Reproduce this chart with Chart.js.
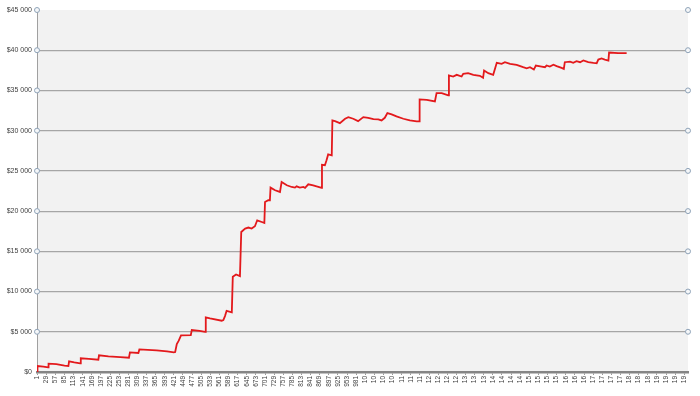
<!DOCTYPE html>
<html>
<head>
<meta charset="utf-8">
<script src="https://cdn.jsdelivr.net/npm/chart.js@4.4.1/dist/chart.umd.min.js"></script>
<style>
  html, body { margin: 0; padding: 0; background: #fff; }
  #wrap { width: 700px; height: 396px; }
</style>
</head>
<body>
<div id="wrap"><canvas id="equity"></canvas></div>
<script>
const tradeNo = [1, 2, 20, 35, 36, 60, 85, 97, 99, 115, 133, 135, 160, 189, 191, 220, 256, 283, 286, 312,
  315, 368, 400, 421, 425, 430, 436, 443, 473, 476, 500, 517, 519, 532, 568, 573, 578, 583, 599, 602,
  612, 624, 628, 640, 650, 660, 670, 677, 691, 699, 701, 711, 716, 718, 732, 747, 752, 768, 783, 793,
  798, 808, 819, 824, 834, 849, 875, 876, 885, 890, 895, 906, 908, 916, 931, 947, 957, 972, 987, 1003,
  1018, 1034, 1049, 1059, 1069, 1077, 1090, 1105, 1126, 1146, 1167, 1175, 1176, 1198, 1223, 1228, 1244, 1264, 1266, 1279,
  1290, 1305, 1310, 1325, 1341, 1361, 1371, 1374, 1387, 1402, 1413, 1428, 1438, 1454, 1474, 1494, 1505, 1515, 1527, 1533,
  1551, 1561, 1566, 1576, 1587, 1597, 1612, 1619, 1622, 1638, 1648, 1658, 1669, 1679, 1694, 1710, 1720, 1725, 1735, 1745,
  1756, 1758, 1786, 1812];

// account balance in dollars
const balance = [0, 745, 660, 580, 1030, 980, 800, 745, 1330, 1200, 1080, 1700, 1620, 1530, 2070, 1950, 1860, 1780, 2440, 2360,
  2810, 2690, 2560, 2440, 2480, 3475, 3900, 4550, 4590, 5210, 5100, 5000, 6790, 6660, 6370, 6450, 6950, 7610, 7410, 11830,
  12120, 11910, 17410, 17830, 17960, 17830, 18120, 18860, 18650, 18530, 21130, 21350, 21350, 22920, 22590, 22380, 23620, 23210, 23000, 22920,
  23080, 22920, 23000, 22880, 23330, 23210, 22880, 25750, 25700, 26310, 27050, 26930, 31270, 31190, 30940, 31480, 31680, 31480, 31190, 31680,
  31600, 31430, 31400, 31270, 31600, 32180, 32020, 31770, 31480, 31270, 31150, 31150, 33880, 33840, 33630, 34660, 34660, 34380, 36860, 36730,
  36940, 36730, 37070, 37140, 36940, 36820, 36570, 37480, 37140, 36940, 38430, 38310, 38510, 38310, 38190, 37890, 37760, 37890, 37600, 38100,
  37970, 37890, 38100, 37970, 38190, 38020, 37800, 37680, 38510, 38590, 38430, 38630, 38510, 38720, 38510, 38430, 38390, 38840, 38970, 38840,
  38720, 39710, 39630, 39630];

const xTickValues = [1, 29, 57, 85, 113, 141, 169, 197, 225, 253, 281, 309, 337, 365, 393, 421, 449, 477, 505, 533,
  561, 589, 617, 645, 673, 701, 729, 757, 785, 813, 841, 869, 897, 925, 953, 981, 1009, 1037, 1065, 1093,
  1121, 1149, 1177, 1205, 1233, 1261, 1289, 1317, 1345, 1373, 1401, 1429, 1457, 1485, 1513, 1541, 1569, 1597, 1625, 1653,
  1681, 1709, 1737, 1765, 1793, 1821, 1849, 1877, 1905, 1933, 1961, 1989];
// long labels get cut off in the original, only two chars show
const xTickLabels = ['1', '29', '57', '85', '113', '141', '169', '197', '225', '253', '281', '309', '337', '365', '393', '421', '449', '477', '505', '533',
  '561', '589', '617', '645', '673', '701', '729', '757', '785', '813', '841', '869', '897', '925', '953', '981', '10', '10', '10', '10',
  '11', '11', '11', '12', '12', '12', '12', '13', '13', '13', '14', '14', '14', '14', '15', '15', '15', '15', '16', '16',
  '16', '17', '17', '17', '17', '18', '18', '18', '19', '19', '19', '19'];

const yTicks = [0, 5000, 10000, 15000, 20000, 25000, 30000, 35000, 40000, 45000];

const points = tradeNo.map((t, i) => ({ x: t, y: balance[i] }));

function dollars(v) {
  return '$' + String(v).replace(/\B(?=(\d{3})+(?!\d))/g, ' ');
}

// grey plot area + little round handles at both ends of each gridline
const plotDecor = {
  id: 'plotDecor',
  beforeDraw(chart) {
    const { ctx, chartArea: a } = chart;
    ctx.save();
    ctx.fillStyle = '#f2f2f2';
    ctx.fillRect(a.left, a.top, a.right - a.left, a.bottom - a.top);
    ctx.restore();
  },
  afterDraw(chart) {
    const { ctx, chartArea: a, scales } = chart;
    ctx.save();
    ctx.lineWidth = 1;
    ctx.strokeStyle = '#8fa3b8';
    ctx.fillStyle = '#f5f7f9';
    yTicks.forEach(v => {
      if (v === 0) return;
      const y = scales.y.getPixelForValue(v);
      [a.left, a.right].forEach(x => {
        ctx.beginPath();
        ctx.arc(x, y, 2.5, 0, Math.PI * 2);
        ctx.fill();
        ctx.stroke();
      });
    });
    ctx.restore();
  }
};

const tickFont = { family: 'Liberation Sans, Arial, sans-serif', size: 7 };

new Chart(document.getElementById('equity'), {
  type: 'line',
  data: {
    datasets: [{
      data: points,
      borderColor: '#e3191c',
      borderWidth: 1.8,
      pointRadius: 0,
      tension: 0,
      fill: false
    }]
  },
  options: {
    responsive: true,
    maintainAspectRatio: false,
    animation: false,
    parsing: true,
    layout: { padding: { top: 10, right: 12, left: 0, bottom: 0 } },
    plugins: {
      legend: { display: false },
      tooltip: { enabled: false }
    },
    scales: {
      x: {
        type: 'linear',
        min: 0.5,
        max: 2000.5,
        afterBuildTicks(scale) {
          scale.ticks = xTickValues.map(v => ({ value: v }));
        },
        afterFit(scale) { scale.height = 24; },
        ticks: {
          autoSkip: false,
          maxRotation: 90,
          minRotation: 90,
          padding: 1,
          color: '#404040',
          font: { family: 'Liberation Sans, Arial, sans-serif', size: 6.5 },
          callback(value) {
            const i = xTickValues.indexOf(value);
            return i >= 0 ? xTickLabels[i] : '';
          }
        },
        grid: {
          display: true,
          drawOnChartArea: false,
          drawTicks: true,
          tickLength: 3,
          color: '#9a9a9a'
        },
        border: { display: true, color: '#858585', width: 2.5 }
      },
      y: {
        min: 0,
        max: 45000,
        afterBuildTicks(scale) {
          scale.ticks = yTicks.map(v => ({ value: v }));
        },
        afterFit(scale) { scale.width = 37; },
        ticks: {
          padding: 5,
          color: '#404040',
          font: tickFont,
          callback: v => dollars(v)
        },
        grid: {
          drawTicks: false,
          lineWidth: 1.2,
          color: ctx => (ctx.tick && ctx.tick.value === 45000) ? 'rgba(0,0,0,0)' : '#a6a6a6'
        },
        border: { display: true, color: '#a0a0a0', width: 1 }
      }
    }
  },
  plugins: [plotDecor]
});
</script>
</body>
</html>
